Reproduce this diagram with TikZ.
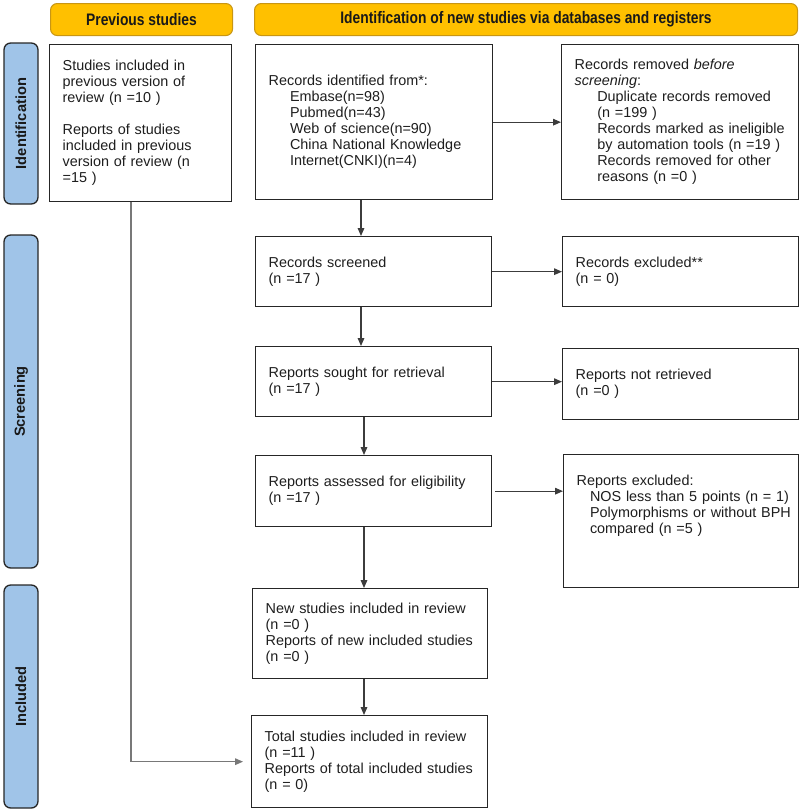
\documentclass[tikz,border=0pt]{standalone}
\usepackage{fontspec}
\setmainfont{Liberation Sans}
\newfontfamily\hdfont{Liberation Sans}[FakeStretch=0.83]
\usetikzlibrary{arrows.meta}
\definecolor{hdfill}{RGB}{255,192,0}
\definecolor{hddraw}{RGB}{200,150,20}
\definecolor{barfill}{RGB}{160,196,232}
\definecolor{txt}{RGB}{30,30,30}
\definecolor{lnk}{RGB}{60,60,60}
\definecolor{grayln}{RGB}{120,120,120}
\begin{document}
\begin{tikzpicture}[x=0.75pt,y=-0.75pt,
  box/.style={draw=black!85, line width=1pt, fill=white, anchor=north west,
    align=left, inner xsep=9.75pt, inner ysep=0pt, text=txt,
    font=\fontsize{10.8pt}{12pt}\selectfont},
  hdr/.style={draw=hddraw, line width=0.8pt, fill=hdfill, rounded corners=5pt,
    anchor=north west, align=center, inner sep=0pt, minimum height=24pt,
    font=\hdfont\bfseries\fontsize{12.5pt}{14pt}\selectfont, text=black!90},
  bar/.style={draw=black!85, line width=1pt, fill=barfill, rounded corners=5pt,
    rotate=90, inner sep=0pt, minimum height=25.5pt,
    font=\bfseries\fontsize{11pt}{12pt}\selectfont, text=black!90},
  arr/.style={draw=lnk, line width=0.8pt, -{Triangle[length=6pt,width=5pt]}}]
\useasboundingbox (0,0) rectangle (800,811);
% headers
\node[hdr, minimum width=136.5pt] (hprev) at (50,3) {Previous studies};
\node[hdr, minimum width=407.25pt] (hid) at (254,3) {Identification of new studies via databases and registers};
% side bars
\node[bar, minimum width=120.75pt] (barI) at (21,123.5) {Identification};
\node[bar, minimum width=249.75pt] (barS) at (21,401.5) {Screening};
\node[bar, minimum width=167.25pt] (barInc) at (21,696.5) {Included};
% boxes
\node[box, text width=117pt, minimum height=117.75pt] (prev) at (49,44)
 {Studies included in\\previous version of\\review (n =10 )\\[12pt]Reports of studies\\included in previous\\version of review (n\\=15 )};
\node[box, text width=158.25pt, minimum height=116.25pt] (ident) at (255,44)
 {Records identified from*:\\
 \hspace*{16pt}Embase(n=98)\\
 \hspace*{16pt}Pubmed(n=43)\\
 \hspace*{16pt}Web of science(n=90)\\
 \hspace*{16pt}\mbox{China National Knowledge}\\
 \hspace*{16pt}Internet(CNKI)(n=4)};
\node[box, text width=158.25pt, minimum height=116.25pt] (removed) at (561,44)
 {Records removed \textit{before}\\
 \textit{screening}:\\
 \hspace*{17pt}\mbox{Duplicate records removed}\\
 \hspace*{17pt}(n =199 )\\
 \hspace*{17pt}\mbox{Records marked as ineligible}\\
 \hspace*{17pt}\mbox{by automation tools (n =19 )}\\
 \hspace*{17pt}\mbox{Records removed for other}\\
 \hspace*{17pt}reasons (n =0 )};
\node[box, text width=157.5pt, minimum height=52.5pt] (screened) at (255,236)
 {Records screened\\(n =17 )};
\node[box, text width=157.5pt, minimum height=52.5pt] (excluded) at (562,236)
 {Records excluded**\\(n = 0)};
\node[box, text width=157.5pt, minimum height=52.5pt] (sought) at (255,346)
 {Reports sought for retrieval\\(n =17 )};
\node[box, text width=157.5pt, minimum height=53.25pt] (notret) at (562,348)
 {Reports not retrieved\\(n =0 )};
\node[box, text width=157.5pt, minimum height=53.25pt] (assessed) at (255,455)
 {\mbox{Reports assessed for eligibility}\\(n =17 )};
\node[box, text width=156.75pt, minimum height=99.75pt] (excl2) at (563,454)
 {Reports excluded:\\
 \hspace*{10pt}\mbox{NOS less than 5 points (n = 1)}\\
 \hspace*{10pt}\mbox{Polymorphisms or without BPH}\\
 \hspace*{10pt}compared (n =5 )\\[14pt]\mbox{}};
\node[box, text width=156.75pt, minimum height=67.5pt] (newst) at (252,588)
 {\mbox{New studies included in review}\\(n =0 )\\\mbox{Reports of new included studies}\\(n =0 )};
\node[box, text width=157.5pt, minimum height=69pt] (total) at (251,715)
 {\mbox{Total studies included in review}\\(n =11 )\\\mbox{Reports of total included studies}\\(n = 0)};
% helper coordinates
\coordinate (ax1) at (361,0);
\coordinate (ax2) at (364,0);
\coordinate (lx) at (131,0);
% connectors
\draw[arr] (ident.south -| ax1) -- (screened.north -| ax1);
\draw[arr] (screened.south -| ax1) -- (sought.north -| ax1);
\draw[arr] (sought.south -| ax2) -- (assessed.north -| ax2);
\draw[arr] (assessed.south -| ax2) -- (newst.north -| ax2);
\draw[arr] (newst.south -| ax2) -- (total.north -| ax2);
\draw[arr] (ident.east) -- (ident.east -| removed.west);
\draw[arr] (screened.east) -- (screened.east -| excluded.west);
\draw[arr] (sought.east) -- (sought.east -| notret.west);
\draw[arr, shorten <=2pt] (assessed.east) -- (assessed.east -| excl2.west);
\draw[arr, draw=grayln, shorten >=6pt] (prev.south -| lx) |- (total.west);
\end{tikzpicture}
\end{document}
